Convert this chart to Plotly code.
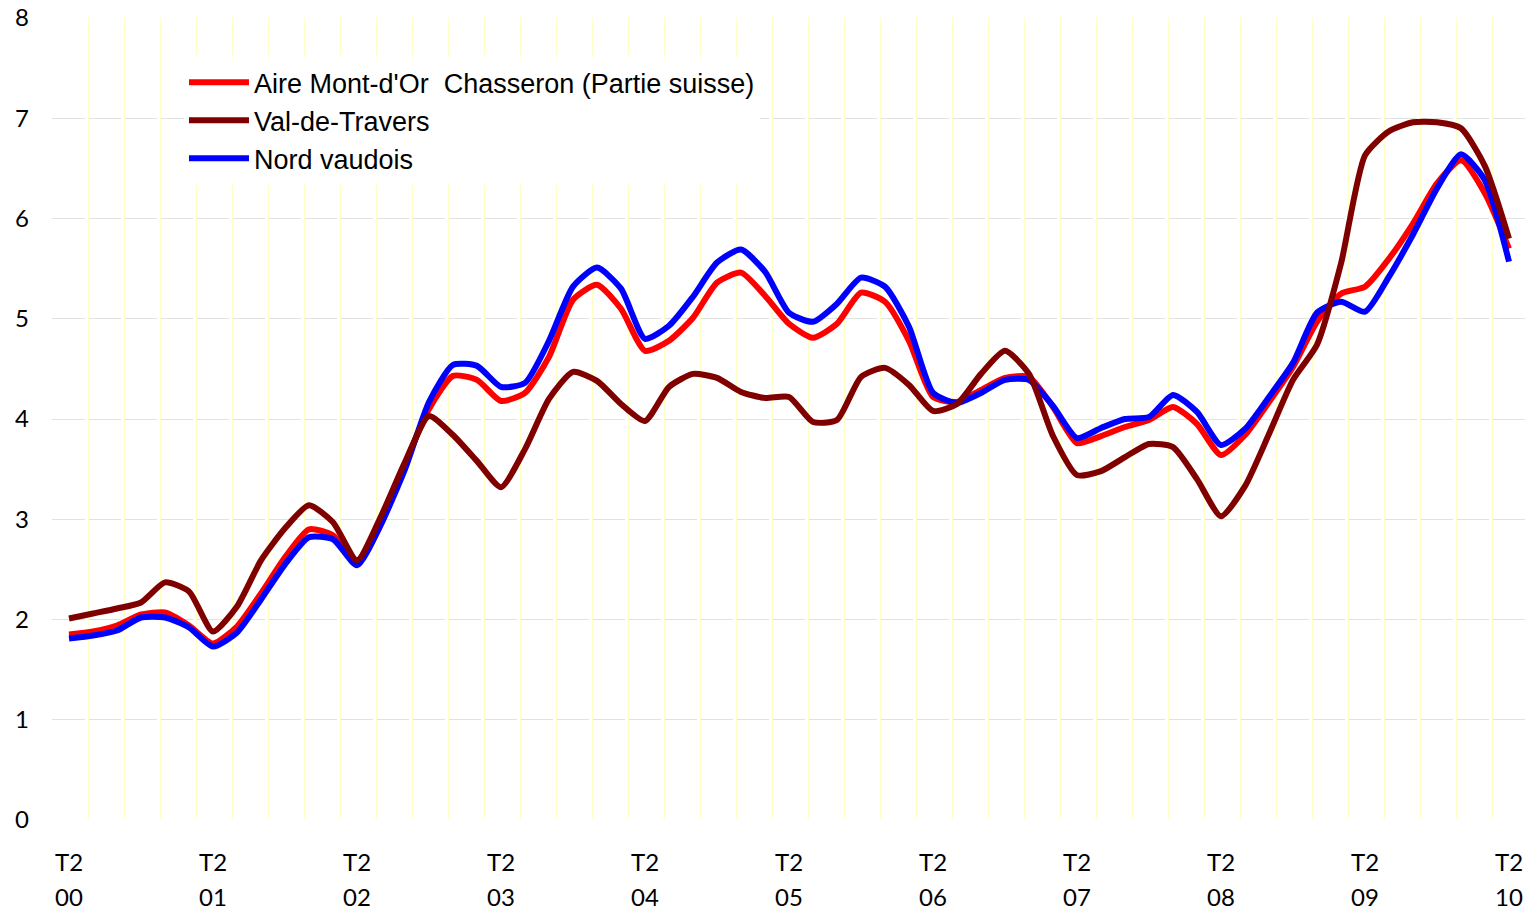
import plotly.graph_objects as go

# Months since T2 2000 (sampled every two months)
months = list(range(0, 121, 2))

aire = [1.85, 1.88, 1.94, 2.05, 2.07, 1.94, 1.76, 1.93, 2.26, 2.62, 2.90, 2.84, 2.56,
        2.95, 3.55, 4.10, 4.43, 4.39, 4.18, 4.26, 4.62, 5.19, 5.34, 5.10, 4.68,
        4.78, 5.01, 5.36, 5.46, 5.23, 4.95, 4.81, 4.95, 5.26, 5.17, 4.78, 4.22,
        4.17, 4.29, 4.41, 4.42, 4.12, 3.76, 3.83, 3.92, 3.99, 4.12, 3.95, 3.64,
        3.84, 4.17, 4.52, 4.97, 5.25, 5.32, 5.60, 5.95, 6.35, 6.58, 6.25, 5.70]

val_de_travers = [2.01, 2.06, 2.11, 2.17, 2.37, 2.28, 1.88, 2.13, 2.59, 2.91, 3.14, 2.97, 2.59,
                  3.03, 3.57, 4.03, 3.84, 3.58, 3.32, 3.70, 4.20, 4.47, 4.38, 4.15, 3.98,
                  4.32, 4.45, 4.41, 4.27, 4.21, 4.22, 3.97, 3.99, 4.42, 4.51, 4.34, 4.08,
                  4.15, 4.45, 4.68, 4.45, 3.83, 3.44, 3.48, 3.62, 3.75, 3.72, 3.40, 3.03,
                  3.33, 3.85, 4.39, 4.74, 5.55, 6.63, 6.87, 6.96, 6.96, 6.90, 6.52, 5.80]

nord_vaudois = [1.81, 1.84, 1.89, 2.02, 2.02, 1.92, 1.73, 1.87, 2.20, 2.55, 2.82, 2.80, 2.54,
                2.95, 3.50, 4.17, 4.54, 4.53, 4.32, 4.36, 4.78, 5.32, 5.51, 5.30, 4.80,
                4.93, 5.22, 5.56, 5.69, 5.47, 5.06, 4.97, 5.15, 5.41, 5.32, 4.92, 4.26,
                4.16, 4.26, 4.39, 4.39, 4.13, 3.81, 3.91, 4.00, 4.02, 4.24, 4.07, 3.74,
                3.90, 4.22, 4.56, 5.06, 5.17, 5.07, 5.42, 5.84, 6.30, 6.64, 6.38, 5.57]

series_names = ["Aire Mont-d'Or  Chasseron (Partie suisse)", "Val-de-Travers", "Nord vaudois"]
series_colors = ["#FF0000", "#800000", "#0000FF"]

tick_months = list(range(0, 121, 12))
tick_quarter = ["T2"] * len(tick_months)
tick_years = ["00", "01", "02", "03", "04", "05", "06", "07", "08", "09", "10"]

y_ticks = [0, 1, 2, 3, 4, 5, 6, 7, 8]

# 12 px per month over a 1473 px wide plot area
x_range = [-17 / 12, -17 / 12 + 1473 / 12]
grid_tick0 = x_range[0] + 0.5 / 12

fig = go.Figure()

line_w = 6
# draw order: red, blue, dark red (dark on top); legend order via legendrank
fig.add_trace(go.Scatter(x=months, y=aire, name=series_names[0], mode="lines",
                         line=dict(color=series_colors[0], width=line_w, shape="spline", smoothing=0.6),
                         legendrank=1))
fig.add_trace(go.Scatter(x=months, y=nord_vaudois, name=series_names[2], mode="lines",
                         line=dict(color=series_colors[2], width=line_w, shape="spline", smoothing=0.6),
                         legendrank=3))
fig.add_trace(go.Scatter(x=months, y=val_de_travers, name=series_names[1], mode="lines",
                         line=dict(color=series_colors[1], width=line_w, shape="spline", smoothing=0.6),
                         legendrank=2))

# invisible helper traces to activate the overlay axes
fig.add_trace(go.Scatter(x=[x_range[0]], y=[0], xaxis="x2", mode="markers",
                         marker=dict(opacity=0), showlegend=False, hoverinfo="skip"))
fig.add_trace(go.Scatter(x=[x_range[0]], y=[0], xaxis="x3", mode="markers",
                         marker=dict(opacity=0), showlegend=False, hoverinfo="skip"))

axis_font = dict(family="Lato, Carlito, Calibri, sans-serif", size=24, color="#000000")

# page body has an 8px margin: the figure is sized/margined to compensate
fig.update_layout(
    width=1525, height=904,
    margin=dict(l=44, r=8, t=10, b=92, autoexpand=False),
    paper_bgcolor="white", plot_bgcolor="white",
    showlegend=True,
    legend=dict(x=0.0896, y=0.95, xanchor="left", yanchor="top",
                bgcolor="white", borderwidth=0,
                font=dict(family="Liberation Sans, Arial, sans-serif", size=27, color="#000000"),
                itemwidth=60, tracegroupgap=0),
    xaxis=dict(range=x_range, tickmode="array", tickvals=tick_months, ticktext=tick_quarter,
               showgrid=False, zeroline=False, showline=False, ticks="", automargin=False,
               ticklabeloverflow="allow", tickfont=axis_font, ticklabelstandoff=26),
    xaxis2=dict(range=x_range, overlaying="x", side="bottom", anchor="y",
                tickmode="array", tickvals=tick_months, ticktext=tick_years,
                showgrid=False, zeroline=False, showline=False, ticks="", automargin=False,
                ticklabeloverflow="allow", tickfont=axis_font, ticklabelstandoff=61),
    xaxis3=dict(range=x_range, overlaying="x", side="bottom", anchor="y",
                tick0=grid_tick0, dtick=3, showticklabels=False, automargin=False,
                showgrid=True, gridcolor="#FFFFC8", gridwidth=1,
                zeroline=False, showline=False, ticks=""),
    yaxis=dict(range=[0, 8], tickmode="array", tickvals=y_ticks, automargin=False,
               showgrid=True, gridcolor="#E2E2E2", gridwidth=1, griddash="33px,3px",
               zeroline=False, showline=False, ticks="", ticklabeloverflow="allow",
               tickfont=axis_font, ticklabelstandoff=22),
)

fig.write_html("out.html")
